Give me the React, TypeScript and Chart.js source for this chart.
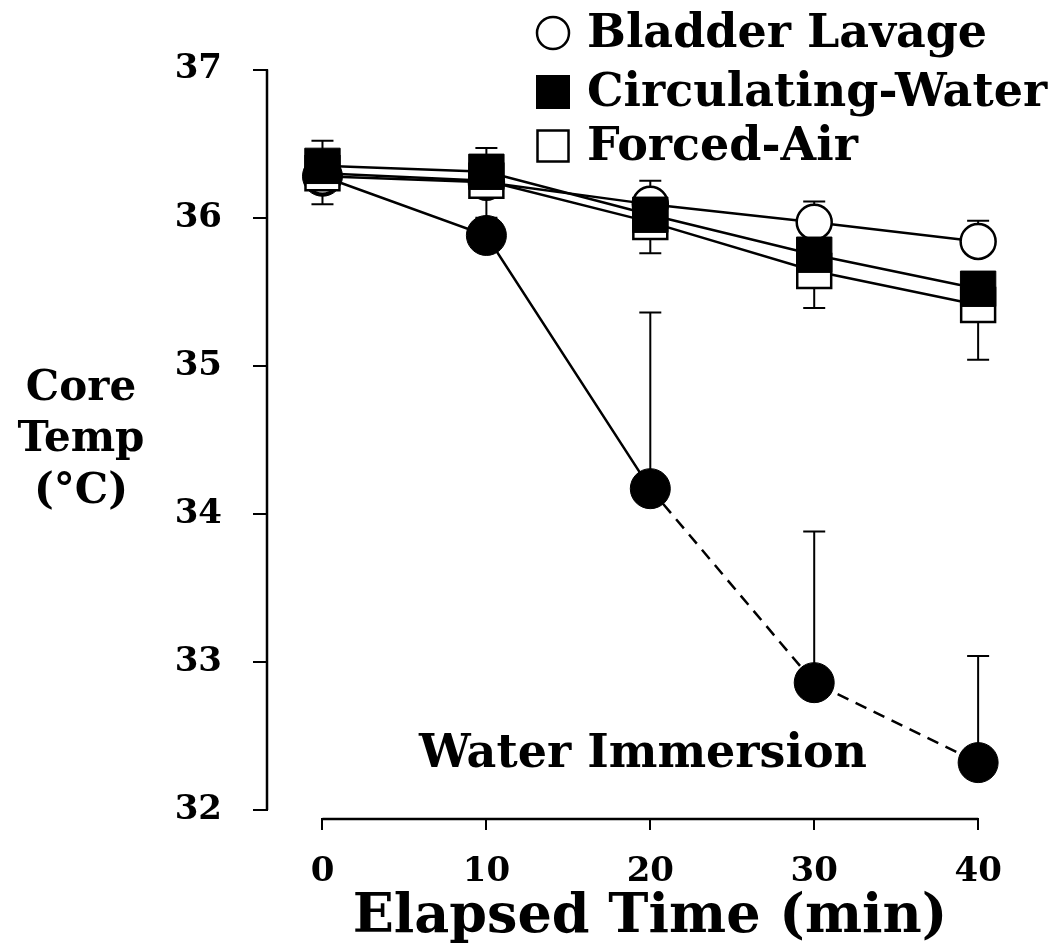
import React, { useEffect, useRef } from 'react';
import { Chart, registerables } from 'chart.js';

Chart.register(...registerables);

// ---- Data ----
const timePoints = [0, 10, 20, 30, 40];
const xTickValues = [0, 10, 20, 30, 40];
const yTickValues = [32, 33, 34, 35, 36, 37];

const bladderLavage = [36.28, 36.24, 36.09, 35.97, 35.84];
const bladderLavageSD = [0.24, 0.23, 0.16, 0.14, 0.14]; // drawn upward

const circulatingWater = [36.35, 36.31, 36.02, 35.75, 35.52];

const forcedAir = [36.3, 36.25, 35.97, 35.64, 35.41];
const forcedAirSD = [0.21, 0.25, 0.21, 0.25, 0.37]; // drawn downward

const waterImmersion = [36.28, 35.88, 34.17, 32.86, 32.32];
const waterImmersionSD = [0, 0.1, 1.19, 1.02, 0.72]; // drawn upward

const legendLabels = ['Bladder Lavage', 'Circulating-Water', 'Forced-Air'];
const yTitleLines = ['Core', 'Temp', '(°C)'];
const xTitle = 'Elapsed Time (min)';
const seriesNote = 'Water Immersion';

const FONT = "'DejaVu Serif', serif";

const pts = (ys: number[]) => timePoints.map((x, i) => ({ x, y: ys[i] }));

export default function App() {
  const ref = useRef<HTMLCanvasElement | null>(null);

  useEffect(() => {
    document.body.style.margin = '0';
    const canvas = ref.current;
    if (!canvas) return;

    const decorPlugin = {
      id: 'decor',
      beforeDatasetsDraw(chart: any) {
        const { ctx } = chart;
        const xs = chart.scales.x;
        const ys = chart.scales.y;
        ctx.save();
        ctx.strokeStyle = '#000';
        ctx.lineWidth = 2;
        const bar = (xv: number, yv: number, d: number) => {
          if (!d) return;
          const px = xs.getPixelForValue(xv);
          const p0 = ys.getPixelForValue(yv);
          const p1 = ys.getPixelForValue(yv + d);
          ctx.beginPath();
          ctx.moveTo(px, p0);
          ctx.lineTo(px, p1);
          ctx.moveTo(px - 11, p1);
          ctx.lineTo(px + 11, p1);
          ctx.stroke();
        };
        timePoints.forEach((t, i) => {
          bar(t, bladderLavage[i], bladderLavageSD[i]);
          bar(t, forcedAir[i], -forcedAirSD[i]);
          bar(t, waterImmersion[i], waterImmersionSD[i]);
        });
        ctx.restore();
      },
      afterDraw(chart: any) {
        const { ctx } = chart;
        const xs = chart.scales.x;
        const ys = chart.scales.y;
        ctx.save();
        ctx.strokeStyle = '#000';
        ctx.fillStyle = '#000';
        ctx.lineWidth = 2.5;
        // axis lines (detached)
        ctx.beginPath();
        ctx.moveTo(ys.right - 1, ys.getPixelForValue(yTickValues[0]));
        ctx.lineTo(ys.right - 1, ys.getPixelForValue(yTickValues[yTickValues.length - 1]));
        ctx.stroke();
        ctx.beginPath();
        ctx.moveTo(xs.getPixelForValue(xTickValues[0]), xs.top + 1);
        ctx.lineTo(xs.getPixelForValue(xTickValues[xTickValues.length - 1]), xs.top + 1);
        ctx.stroke();

        // y title
        ctx.font = `bold 42px ${FONT}`;
        ctx.textAlign = 'center';
        ctx.textBaseline = 'alphabetic';
        const yBase = [400, 451, 503];
        yTitleLines.forEach((s, i) => ctx.fillText(s, 81, yBase[i]));

        // x title
        ctx.font = `bold 54px ${FONT}`;
        ctx.fillText(xTitle, 650, 932);

        // series note
        ctx.font = `bold 46px ${FONT}`;
        ctx.fillText(seriesNote, 643, 767);

        // legend
        ctx.textAlign = 'left';
        ctx.font = `bold 46px ${FONT}`;
        const lx = 553;
        const tx = 587;
        const rows = [33, 92, 146];
        ctx.lineWidth = 2.5;
        ctx.beginPath();
        ctx.arc(lx, rows[0], 16, 0, Math.PI * 2);
        ctx.fillStyle = '#fff';
        ctx.fill();
        ctx.stroke();
        ctx.fillStyle = '#000';
        ctx.fillRect(lx - 17, rows[1] - 17, 34, 34);
        ctx.strokeRect(lx - 15.5, rows[2] - 15.5, 31, 31);
        ctx.textBaseline = 'middle';
        legendLabels.forEach((s, i) => ctx.fillText(s, tx, rows[i] + 2));
        ctx.restore();
      },
    };

    const chart = new Chart(canvas, {
      type: 'line',
      data: {
        datasets: [
          {
            label: 'Circulating-Water',
            data: pts(circulatingWater),
            order: 0,
            borderColor: '#000',
            borderWidth: 2.5,
            backgroundColor: '#000',
            pointStyle: 'rect',
            pointRadius: 25,
            pointBorderWidth: 1,
            pointBackgroundColor: '#000',
            pointBorderColor: '#000',
          },
          {
            label: 'Forced-Air',
            data: pts(forcedAir),
            order: 1,
            borderColor: '#000',
            borderWidth: 2.5,
            backgroundColor: '#fff',
            pointStyle: 'rect',
            pointRadius: 24,
            pointBorderWidth: 2.5,
            pointBackgroundColor: '#fff',
            pointBorderColor: '#000',
          },
          {
            label: 'Bladder Lavage',
            data: pts(bladderLavage),
            order: 2,
            borderColor: '#000',
            borderWidth: 2.5,
            backgroundColor: '#fff',
            pointStyle: 'circle',
            pointRadius: 17.5,
            pointBorderWidth: 2.5,
            pointBackgroundColor: '#fff',
            pointBorderColor: '#000',
          },
          {
            label: 'Water Immersion',
            data: pts(waterImmersion),
            order: 3,
            borderColor: '#000',
            borderWidth: 2.5,
            backgroundColor: '#000',
            pointStyle: 'circle',
            pointRadius: 20,
            pointBorderWidth: 1,
            pointBackgroundColor: '#000',
            pointBorderColor: '#000',
            segment: {
              borderDash: (c: any) => (c.p0DataIndex >= 2 ? [12, 8] : undefined),
            },
          },
        ],
      },
      options: {
        animation: false,
        responsive: false,
        maintainAspectRatio: false,
        layout: { padding: { left: 0, right: 19, top: 50, bottom: 0 } },
        plugins: { legend: { display: false }, tooltip: { enabled: false } },
        elements: { line: { tension: 0 } },
        scales: {
          x: {
            type: 'linear',
            min: -3.323,
            max: 43.317,
            afterBuildTicks: (s: any) => {
              s.ticks = xTickValues.map((v) => ({ value: v }));
            },
            afterFit: (s: any) => {
              s.height = 126;
            },
            border: { display: false },
            grid: { drawOnChartArea: false, drawTicks: true, tickLength: 12, color: '#000', lineWidth: 2 },
            ticks: { color: '#000', font: { family: FONT, size: 34, weight: 'bold' }, padding: 22, maxRotation: 0 },
          },
          y: {
            type: 'linear',
            min: 31.946,
            max: 37.123,
            afterBuildTicks: (s: any) => {
              s.ticks = yTickValues.map((v) => ({ value: v }));
            },
            afterFit: (s: any) => {
              s.width = 268;
            },
            border: { display: false },
            grid: { drawOnChartArea: false, drawTicks: true, tickLength: 15, color: '#000', lineWidth: 2 },
            ticks: { color: '#000', font: { family: FONT, size: 34, weight: 'bold' }, padding: 31 },
          },
        },
      },
      plugins: [decorPlugin],
    } as any);

    return () => chart.destroy();
  }, []);

  return <canvas ref={ref} width={1059} height={944} style={{ display: 'block' }} />;
}
